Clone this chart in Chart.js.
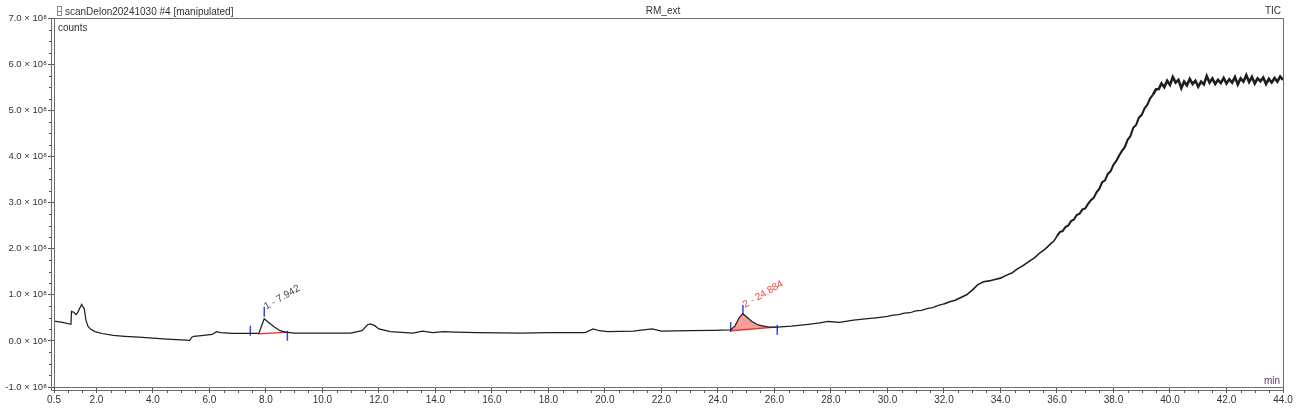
<!DOCTYPE html>
<html>
<head>
<meta charset="utf-8">
<script src="https://cdn.jsdelivr.net/npm/chart.js@4.4.1/dist/chart.umd.min.js"></script>
<style>
  html, body { margin: 0; padding: 0; background: #fff; }
  #wrap { width: 1300px; height: 420px; }
</style>
</head>
<body>
<div id="wrap"><canvas id="tic"></canvas></div>
<script>
// retention time (min) and TIC counts (x 10^8)
const time = [
  0.5, 0.8, 1.1, 1.12, 1.2, 1.28, 1.35, 1.42, 1.48, 1.52, 1.57, 1.63, 1.7, 1.8, 1.95,
  2.2, 2.6, 3.0, 3.5, 4.0, 4.5, 5.0, 5.3, 5.38, 5.45, 5.8, 6.1, 6.25, 6.4, 6.8,
  7.4, 7.75, 7.94, 8.1, 8.3, 8.5, 8.7, 9.0, 10.0, 11.0, 11.4, 11.6, 11.7, 11.85, 12.0,
  12.4, 13.2, 13.55, 13.9, 14.3, 14.7, 15.5, 17.0, 18.0, 19.3, 19.58, 19.8, 20.1, 21.0, 21.67,
  22.0, 23.0, 23.8, 24.45, 24.6, 24.75, 24.88, 25.0, 25.2, 25.45, 25.8, 26.1, 26.6, 27.2, 27.6,
  27.9, 28.3, 28.8, 29.3, 29.6, 30.0, 30.2, 30.4, 30.6, 30.8, 31.0, 31.2, 31.4, 31.6, 31.8,
  32.0, 32.2, 32.4, 32.6, 32.8, 33.0, 33.2, 33.4, 33.6, 33.8, 34.0, 34.2, 34.4, 34.6, 34.8,
  35.0, 35.2, 35.4, 35.6, 35.8, 35.9, 36.0, 36.1, 36.2, 36.3, 36.4, 36.5, 36.6, 36.7, 36.8,
  36.9, 37.0, 37.1, 37.2, 37.3, 37.4, 37.5, 37.6, 37.7, 37.8, 37.9, 38.0, 38.1, 38.2, 38.3,
  38.4, 38.5, 38.6, 38.7, 38.8, 38.9, 39.0, 39.1, 39.2, 39.3, 39.4, 39.5, 39.6, 39.7, 39.8,
  39.9, 40.0, 40.1, 40.2, 40.3, 40.4, 40.5, 40.6, 40.7, 40.8, 40.9, 41.0, 41.1, 41.2, 41.3,
  41.4, 41.5, 41.6, 41.7, 41.8, 41.9, 42.0, 42.1, 42.2, 42.3, 42.4, 42.5, 42.6, 42.7, 42.8,
  42.9, 43.0, 43.1, 43.2, 43.3, 43.4, 43.5, 43.6, 43.7, 43.8, 43.9, 44.0
];
const counts = [
  0.43, 0.40, 0.36, 0.64, 0.62, 0.57, 0.63, 0.72, 0.79, 0.74, 0.70, 0.45, 0.32, 0.25, 0.20,
  0.16, 0.12, 0.10, 0.08, 0.06, 0.04, 0.02, 0.01, 0.08, 0.10, 0.12, 0.14, 0.20, 0.18, 0.16,
  0.16, 0.16, 0.48, 0.40, 0.30, 0.22, 0.19, 0.17, 0.17, 0.17, 0.22, 0.35, 0.37, 0.33, 0.26,
  0.20, 0.17, 0.21, 0.18, 0.20, 0.19, 0.18, 0.17, 0.18, 0.18, 0.26, 0.22, 0.20, 0.21, 0.26,
  0.21, 0.22, 0.23, 0.24, 0.32, 0.50, 0.59, 0.53, 0.42, 0.34, 0.30, 0.30, 0.32, 0.36, 0.39,
  0.42, 0.40, 0.45, 0.48, 0.50, 0.53, 0.56, 0.57, 0.60, 0.61, 0.65, 0.66, 0.70, 0.72, 0.77,
  0.80, 0.85, 0.88, 0.94, 1.00, 1.10, 1.22, 1.28, 1.30, 1.33, 1.36, 1.42, 1.47, 1.56, 1.63,
  1.72, 1.80, 1.91, 2.00, 2.12, 2.17, 2.27, 2.36, 2.38, 2.47, 2.50, 2.60, 2.63, 2.73, 2.76,
  2.85, 2.87, 2.97, 3.05, 3.10, 3.22, 3.30, 3.44, 3.48, 3.62, 3.68, 3.82, 3.90, 4.02, 4.12,
  4.20, 4.36, 4.44, 4.62, 4.68, 4.84, 4.90, 5.04, 5.12, 5.26, 5.34, 5.45, 5.46, 5.58, 5.50,
  5.64, 5.55, 5.72, 5.60, 5.66, 5.48, 5.62, 5.54, 5.68, 5.57, 5.64, 5.51, 5.62, 5.56, 5.74,
  5.60, 5.69, 5.57, 5.66, 5.59, 5.70, 5.58, 5.67, 5.60, 5.72, 5.56, 5.69, 5.62, 5.76, 5.61,
  5.72, 5.58, 5.69, 5.63, 5.71, 5.57, 5.68, 5.60, 5.70, 5.62, 5.73, 5.66
];

// integrated peaks
const peakLabels = ['1 - 7.942', '2 - 24.884'];
const peakApexTime = [7.942, 24.884];
const peakApexMark = [0.63, 0.67];
const peakColors = ['#3f4a5c', '#f2493a'];
const peak1BaseX = [7.72, 8.78];
const peak1BaseY = [0.15, 0.19];
const peak2BaseX = [24.45, 26.05];
const peak2BaseY = [0.22, 0.30];
// blue start / apex / end markers
const markTime = [7.45, 7.942, 8.76, 24.45, 24.884, 26.1];
const markCount = [0.22, 0.63, 0.11, 0.30, 0.67, 0.24];

const xTicks = [0.5, 2, 4, 6, 8, 10, 12, 14, 16, 18, 20, 22, 24, 26, 28, 30, 32, 34, 36, 38, 40, 42, 44];
const yTicks = [-1, 0, 1, 2, 3, 4, 5, 6, 7];

const FONT = 'Liberation Sans';
const trace = time.map((t, i) => ({ x: t, y: counts[i] }));
const peak2Area = trace.filter(p => p.x >= peak2BaseX[0] && p.x <= peak2BaseX[1]);

// the late part of the run is noisy, so the trace gets heavier there
function segWidth(ctx) {
  const x = ctx.p0.parsed.x;
  if (x >= 39.4) return 2.6;
  if (x >= 36) return 2.1;
  if (x >= 32) return 1.6;
  return 1.25;
}

const framePlugin = {
  id: 'frame',
  afterDraw(chart) {
    const ctx = chart.ctx;
    const a = chart.chartArea;
    const xs = chart.scales.x, ys = chart.scales.y;
    ctx.save();
    ctx.strokeStyle = '#6e6e6e';
    ctx.lineWidth = 1;
    ctx.strokeRect(a.left + 0.5, a.top + 0.5, a.right - a.left, a.bottom - a.top);
    ctx.beginPath();
    ctx.moveTo(a.left - 2.5, a.top);
    ctx.lineTo(a.left - 2.5, a.bottom + 3.5);
    ctx.lineTo(a.right + 0.5, a.bottom + 3.5);
    ctx.stroke();
    // minor ticks
    ctx.strokeStyle = '#555';
    ctx.beginPath();
    for (let v = 1; v < 44; v += 0.5) {
      if (v % 2 === 0) continue;
      const px = Math.round(xs.getPixelForValue(v)) + 0.5;
      ctx.moveTo(px, a.bottom + 3.5);
      ctx.lineTo(px, a.bottom + 6);
    }
    for (let v = -1; v < 7; v += 0.25) {
      if (Number.isInteger(v)) continue;
      const py = Math.round(ys.getPixelForValue(v)) + 0.5;
      ctx.moveTo(a.left - 2.5, py);
      ctx.lineTo(a.left - 5, py);
    }
    ctx.stroke();

    // header texts
    ctx.fillStyle = '#333';
    ctx.font = '10px "' + FONT + '"';
    ctx.textBaseline = 'middle';
    ctx.textAlign = 'left';
    ctx.fillText('scanDelon20241030 #4 [manipulated]', 65, 12);
    ctx.textAlign = 'center';
    ctx.fillText('RM_ext', 663, 11);
    ctx.textAlign = 'right';
    ctx.fillText('TIC', 1281, 11);
    ctx.textAlign = 'left';
    ctx.fillText('counts', a.left + 4, a.top + 10);
    ctx.textAlign = 'right';
    ctx.fillStyle = '#5a3a6a';
    ctx.fillText('min', a.right - 3, a.bottom - 6);
    // tiny file icon
    ctx.strokeStyle = '#888';
    ctx.strokeRect(57.5, 6.5, 4, 9);
    ctx.beginPath();
    ctx.moveTo(57.5, 11.5); ctx.lineTo(61.5, 11.5);
    ctx.stroke();

    // peak labels
    peakLabels.forEach((lab, i) => {
      const px = xs.getPixelForValue(peakApexTime[i]) + 2;
      const py = ys.getPixelForValue(peakApexMark[i]) - 2;
      ctx.save();
      ctx.translate(px, py);
      ctx.rotate(-30 * Math.PI / 180);
      ctx.font = '10px "' + FONT + '"';
      ctx.fillStyle = peakColors[i];
      ctx.textAlign = 'left';
      ctx.textBaseline = 'alphabetic';
      ctx.fillText(lab, 0, 0);
      ctx.restore();
    });
    ctx.restore();
  }
};

new Chart(document.getElementById('tic'), {
  type: 'line',
  data: {
    datasets: [
      {
        label: 'TIC',
        data: trace,
        borderColor: '#1e1e1e',
        borderWidth: 1.25,
        pointRadius: 0,
        tension: 0,
        segment: { borderWidth: segWidth }
      },
      {
        label: 'marks',
        data: markTime.map((t, i) => ({ x: t, y: markCount[i] })),
        showLine: false,
        pointStyle: 'line',
        rotation: 90,
        pointRadius: 5,
        borderColor: '#2f45e8',
        borderWidth: 1.5
      },
      {
        label: 'base1',
        data: peak1BaseX.map((t, i) => ({ x: t, y: peak1BaseY[i] })),
        borderColor: '#ee2b2b',
        borderWidth: 1.3,
        pointRadius: 0
      },
      {
        label: 'base2',
        data: peak2BaseX.map((t, i) => ({ x: t, y: peak2BaseY[i] })),
        borderColor: '#ee2b2b',
        borderWidth: 1.3,
        pointRadius: 0
      },
      {
        label: 'area2',
        data: peak2Area,
        borderWidth: 0,
        borderColor: 'rgba(0,0,0,0)',
        backgroundColor: '#f5a097',
        pointRadius: 0,
        fill: 3
      }
    ]
  },
  options: {
    responsive: true,
    maintainAspectRatio: false,
    animation: false,
    layout: { padding: { left: 0, right: 17, top: 18, bottom: 0 } },
    plugins: {
      legend: { display: false },
      tooltip: { enabled: false },
      filler: { propagate: false }
    },
    scales: {
      x: {
        type: 'linear',
        min: 0.5,
        max: 44,
        afterBuildTicks(scale) { scale.ticks = xTicks.map(v => ({ value: v })); },
        afterFit(scale) { scale.height = 33; },
        grid: { drawOnChartArea: false, drawTicks: true, tickLength: 6, color: '#555' },
        border: { display: false },
        ticks: {
          autoSkip: false,
          maxRotation: 0,
          padding: 1,
          color: '#333',
          font: { family: FONT, size: 10 },
          callback: v => v.toFixed(1)
        }
      },
      y: {
        type: 'linear',
        min: -1,
        max: 7,
        afterBuildTicks(scale) { scale.ticks = yTicks.map(v => ({ value: v })); },
        afterFit(scale) { scale.width = 54; },
        grid: { drawOnChartArea: false, drawTicks: true, tickLength: 6, color: '#555' },
        border: { display: false },
        ticks: {
          padding: 1,
          color: '#333',
          font: { family: FONT, size: 9.5 },
          callback: v => v.toFixed(1) + ' \u00d7 10\u2078'
        }
      }
    }
  },
  plugins: [framePlugin]
});
</script>
</body>
</html>
